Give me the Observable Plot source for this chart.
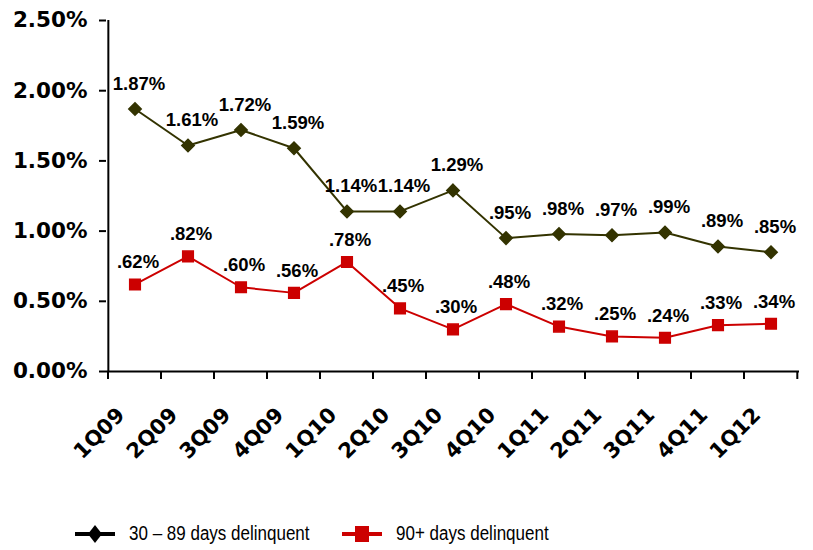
<!DOCTYPE html>
<html><head><meta charset="utf-8">
<script src="https://cdn.jsdelivr.net/npm/d3@7"></script>
<script src="https://cdn.jsdelivr.net/npm/@observablehq/plot@0.6"></script>
<style>
body{margin:0;background:#fff;font-family:Arial,"Liberation Sans",sans-serif;}
#legend{position:relative;height:50px;width:813px;}
.li{position:absolute;top:22px;display:flex;align-items:center;color:#000;}
.li span{display:inline-block;font-size:20px;transform:scaleX(0.85);transform-origin:left center;white-space:nowrap;}
</style></head><body>
<div id="chart"></div>
<div id="legend"></div>
<script>
const quarters = ["1Q09","2Q09","3Q09","4Q09","1Q10","2Q10","3Q10","4Q10","1Q11","2Q11","3Q11","4Q11","1Q12"];
const days30to89 = [1.87,1.61,1.72,1.59,1.14,1.14,1.29,0.95,0.98,0.97,0.99,0.89,0.85];
const days90plus = [0.62,0.82,0.60,0.56,0.78,0.45,0.30,0.48,0.32,0.25,0.24,0.33,0.34];
const seriesNames = ["30 \u2013 89 days delinquent","90+ days delinquent"];
const yTicks = [0,0.5,1.0,1.5,2.0,2.5];

const colA = "#333300", colB = "#CC0000";
const rowsA = quarters.map((q,i)=>({q, v: days30to89[i]}));
const rowsB = quarters.map((q,i)=>({q, v: days90plus[i]}));
const pct = v => { const s = v.toFixed(2) + "%"; return s.startsWith("0") ? s.slice(1) : s; };
const axisFont = "'DejaVu Sans', Verdana, sans-serif";

const W = 813, H = 500, mL = 106, mR = 14, mT = 20, mB = 129;
const bw = (W - mL - mR) / quarters.length;

const plot = Plot.plot({
  width: W, height: H,
  marginLeft: mL, marginRight: mR, marginTop: mT, marginBottom: mB,
  style: {fontFamily: "Arial, 'Liberation Sans', sans-serif", background: "#fff"},
  x: {type: "band", domain: quarters, padding: 0},
  y: {domain: [0, 2.5]},
  marks: [
    Plot.axisY({ticks: yTicks, tickFormat: d => d.toFixed(2) + "%", tickSize: 7, tickPadding: 12, fontSize: 21.5, fontWeight: "bold", fontFamily: axisFont, stroke: "#000", strokeWidth: 2, label: null, color: "#000"}),
    Plot.ruleX([0], {x: () => quarters[0], dx: -bw/2, y1: 0, y2: 2.5, stroke: "#000", strokeWidth: 2}),
    Plot.ruleY([0], {stroke: "#000", strokeWidth: 2}),
    Plot.axisX({tickSize: 0, tickPadding: 40, dx: -14, tickRotate: -45, fontSize: 21, fontWeight: "bold", fontFamily: axisFont, label: null, color: "#000"}),
    Plot.line(rowsA, {x: "q", y: "v", stroke: colA, strokeWidth: 2}),
    Plot.dot(rowsA, {x: "q", y: "v", symbol: "diamond2", r: 5.6, fill: colA, stroke: colA}),
    Plot.line(rowsB, {x: "q", y: "v", stroke: colB, strokeWidth: 2}),
    Plot.dot(rowsB, {x: "q", y: "v", symbol: "square", r: 6, fill: colB, stroke: colB}),
    Plot.text(rowsA, {x: "q", y: "v", text: d => pct(d.v), dx: 4, dy: -25, fontSize: 18.5, fontWeight: "bold", fill: "#000"}),
    Plot.text(rowsB, {x: "q", y: "v", text: d => pct(d.v), dx: 3, dy: -22, fontSize: 18.5, fontWeight: "bold", fill: "#000"})
  ]
});
document.getElementById("chart").appendChild(plot);

// category boundary ticks below the x axis, using the plot's x scale
const xs = plot.scale("x"), ys = plot.scale("y");
const svg = d3.select(plot);
const y0 = ys.apply(0);
const tickXs = quarters.map(q => xs.apply(q)).concat([xs.apply(quarters[quarters.length-1]) + bw]);
svg.append("g").selectAll("line").data(tickXs).join("line")
  .attr("x1", d => d).attr("x2", d => d).attr("y1", y0).attr("y2", y0 + 8)
  .attr("stroke", "#000").attr("stroke-width", 2);

// legend
const leg = document.getElementById("legend");
const items = [
  {name: seriesNames[0], color: "#000", sym: "diamond", left: 75},
  {name: seriesNames[1], color: colB, sym: "square", left: 342}
];
items.forEach(it => {
  const d = document.createElement("div");
  d.className = "li"; d.style.left = it.left + "px";
  const shape = it.sym === "diamond"
    ? `<polygon points="20,2 27,11 20,20 13,11" fill="${it.color}"/>`
    : `<rect x="13" y="3" width="14" height="16" fill="${it.color}"/>`;
  d.innerHTML = `<svg width="40" height="22"><line x1="0" x2="40" y1="11" y2="11" stroke="${it.color}" stroke-width="4"/>${shape}</svg><span style="margin-left:14px">${it.name}</span>`;
  leg.appendChild(d);
});
</script>
</body></html>
